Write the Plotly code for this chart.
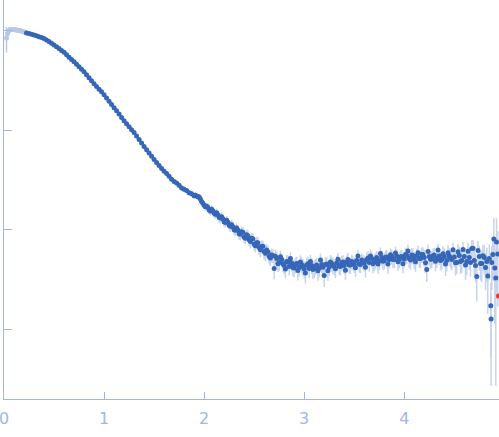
import plotly.graph_objects as go

# Excluded low-q points (light)
q_excluded = [0.025, 0.035, 0.045, 0.055, 0.065, 0.075, 0.085, 0.095, 0.105, 0.115,
              0.125, 0.135, 0.145, 0.155, 0.165, 0.175, 0.185, 0.195, 0.205, 0.215]
i_excluded = [0.841, 0.925, 0.985, 1.012, 1.021, 1.023, 1.023, 1.021, 1.019, 1.016,
              1.012, 1.007, 1.002, 0.997, 0.991, 0.985, 0.978, 0.971, 0.963, 0.955]
e_excluded = [0.24, 0.06, 0.03, 0.015, 0.01, 0.008, 0.006, 0.005, 0.005, 0.004,
              0.004, 0.004, 0.004, 0.004, 0.004, 0.004, 0.004, 0.004, 0.004, 0.004]

# Main experimental curve
q = [0.225, 0.250, 0.275, 0.300, 0.325, 0.350, 0.375, 0.400, 0.425, 0.450,
     0.475, 0.500, 0.525, 0.550, 0.575, 0.600, 0.625, 0.650, 0.675, 0.700,
     0.725, 0.750, 0.775, 0.800, 0.825, 0.850, 0.875, 0.900, 0.925, 0.950,
     0.975, 1.000, 1.025, 1.050, 1.075, 1.100, 1.125, 1.150, 1.175, 1.200,
     1.225, 1.250, 1.275, 1.300, 1.325, 1.350, 1.375, 1.400, 1.425, 1.450,
     1.475, 1.500, 1.525, 1.550, 1.575, 1.600, 1.625, 1.650, 1.675, 1.700,
     1.725, 1.750, 1.775, 1.800, 1.825, 1.850, 1.875, 1.900, 1.925, 1.950,
     1.975, 2.000, 2.025, 2.050, 2.075, 2.100, 2.125, 2.150, 2.175, 2.200,
     2.225, 2.250, 2.275, 2.300, 2.325, 2.350, 2.375, 2.400, 2.425, 2.450,
     2.475, 2.500, 2.525, 2.550, 2.575, 2.600, 2.625, 2.650, 2.675, 2.700,
     2.725, 2.750, 2.775, 2.800, 2.825, 2.850, 2.875, 2.900, 2.925, 2.950,
     2.975, 3.000, 3.025, 3.050, 3.075, 3.100, 3.125, 3.150, 3.175, 3.200,
     3.225, 3.250, 3.275, 3.300, 3.325, 3.350, 3.375, 3.400, 3.425, 3.450,
     3.475, 3.500, 3.525, 3.550, 3.575, 3.600, 3.625, 3.650, 3.675, 3.700,
     3.725, 3.750, 3.775, 3.800, 3.825, 3.850, 3.875, 3.900, 3.925, 3.950,
     3.975, 4.000, 4.025, 4.050, 4.075, 4.100, 4.125, 4.150, 4.175, 4.200,
     4.225, 4.250, 4.275, 4.300, 4.325, 4.350, 4.375, 4.400, 4.425, 4.450,
     4.475, 4.500, 4.525, 4.550, 4.575, 4.600, 4.625, 4.650, 4.675, 4.700,
     4.725, 4.750, 4.775, 4.800, 4.825, 4.835, 4.850, 4.865, 4.868, 4.875,
     4.885, 4.895, 4.905, 4.915, 4.922, 4.935]
intensity = [0.944, 0.931, 0.916, 0.902, 0.885, 0.867, 0.849, 0.832, 0.802, 0.773,
             0.745, 0.716, 0.686, 0.658, 0.630, 0.603, 0.570, 0.540, 0.512, 0.484,
             0.457, 0.432, 0.407, 0.385, 0.359, 0.335, 0.313, 0.292, 0.274, 0.257,
             0.242, 0.226, 0.210, 0.195, 0.181, 0.168, 0.156, 0.145, 0.134, 0.124,
             0.116, 0.108, 0.101, 0.0944, 0.0871, 0.0804, 0.0741, 0.0684, 0.0635, 0.0589,
             0.0547, 0.0507, 0.0473, 0.0442, 0.0412, 0.0385, 0.0366, 0.0343, 0.0320, 0.0305,
             0.0295, 0.0279, 0.0262, 0.0254, 0.0247, 0.0235, 0.0230, 0.0219, 0.0218, 0.0213,
             0.0192, 0.0176, 0.0172, 0.0158, 0.0160, 0.0146, 0.0148, 0.0133, 0.0135, 0.0120,
             0.0124, 0.0111, 0.0112, 0.0100, 0.0104, 0.00912, 0.00955, 0.00841, 0.00891, 0.00794,
             0.00822, 0.00716, 0.00741, 0.00661, 0.00676, 0.00603, 0.00624, 0.00537, 0.00556, 0.00407,
             0.00513, 0.00468, 0.00501, 0.00437, 0.00479, 0.00427, 0.00462, 0.00412, 0.00457, 0.00417,
             0.00447, 0.00403, 0.00442, 0.00407, 0.00437, 0.00407, 0.00442, 0.00412, 0.00447, 0.00347,
             0.00452, 0.00422, 0.00457, 0.00427, 0.00462, 0.00432, 0.00468, 0.00437, 0.00473, 0.00442,
             0.00479, 0.00447, 0.00490, 0.00452, 0.00495, 0.00462, 0.00501, 0.00468, 0.00513, 0.00473,
             0.00525, 0.00484, 0.00525, 0.00490, 0.00531, 0.00501, 0.00537, 0.00501, 0.00543, 0.00501,
             0.00537, 0.00507, 0.00550, 0.00513, 0.00556, 0.00501, 0.00543, 0.00513, 0.00562, 0.00525,
             0.00398, 0.00537, 0.00507, 0.00556, 0.00513, 0.00543, 0.00501, 0.00537, 0.00490, 0.00543,
             0.00501, 0.00531, 0.00468, 0.00550, 0.00490, 0.00537, 0.00479, 0.00525, 0.00646, 0.00490,
             0.00339, 0.00537, 0.00457, 0.00525, 0.00479, 0.00343, 0.00513, 0.00172, 0.00127, 0.00468,
             0.00562, 0.00804, 0.00412, 0.00327, 0.00750, 0.00569]
error = [0.004, 0.004, 0.004, 0.004, 0.004, 0.004, 0.004, 0.004, 0.004, 0.004,
         0.004, 0.004, 0.004, 0.004, 0.003, 0.003, 0.003, 0.003, 0.003, 0.003,
         0.003, 0.003, 0.003, 0.003, 0.003, 0.003, 0.003, 0.003, 0.002, 0.002,
         0.002, 0.002, 0.002, 0.002, 0.002, 0.002, 0.002, 0.002, 0.002, 0.002,
         0.002, 0.002, 0.002, 0.0015, 0.0015, 0.0015, 0.0015, 0.0015, 0.0015, 0.0015,
         0.0015, 0.0015, 0.0015, 0.0015, 0.0015, 0.0015, 0.0015, 0.0015, 0.0015, 0.0015,
         0.0015, 0.0015, 0.0015, 0.0015, 0.0015, 0.0015, 0.0015, 0.0015, 0.0015, 0.0015,
         0.0015, 0.0015, 0.0015, 0.0015, 0.0015, 0.0015, 0.0015, 0.0015, 0.0015, 0.0013,
         0.0013, 0.0013, 0.0013, 0.0012, 0.0012, 0.0012, 0.0012, 0.0011, 0.0011, 0.0011,
         0.0011, 0.0010, 0.0010, 0.0010, 0.0010, 0.0010, 0.0009, 0.0009, 0.0009, 0.0009,
         0.0009, 0.0008, 0.0008, 0.0008, 0.0008, 0.0008, 0.0008, 0.0008, 0.0008, 0.0008,
         0.0008, 0.0008, 0.0008, 0.0008, 0.0008, 0.0008, 0.0008, 0.0008, 0.0008, 0.0008,
         0.0008, 0.0008, 0.0008, 0.0008, 0.0008, 0.0008, 0.0008, 0.0008, 0.0008, 0.0008,
         0.0008, 0.0008, 0.0008, 0.0008, 0.0008, 0.0008, 0.0009, 0.0009, 0.0009, 0.0009,
         0.0009, 0.0009, 0.0009, 0.0009, 0.0009, 0.0009, 0.0009, 0.0009, 0.0009, 0.0009,
         0.0009, 0.0009, 0.0010, 0.0010, 0.0010, 0.0010, 0.0010, 0.0010, 0.0010, 0.0010,
         0.0010, 0.0010, 0.0010, 0.0010, 0.0010, 0.0010, 0.0010, 0.0011, 0.0011, 0.0011,
         0.0011, 0.0011, 0.0011, 0.0012, 0.0012, 0.0012, 0.0013, 0.0013, 0.0014, 0.0014,
         0.0015, 0.0015, 0.0016, 0.0017, 0.0018, 0.0020, 0.0020, 0.0012, 0.0010, 0.0022,
         0.0025, 0.0050, 0.0030, 0.0030, 0.0055, 0.0040]

# Interleaved readings in the noisy part of the curve
q_mid = [1.9125, 1.9375, 1.9625, 1.9875, 2.0125, 2.0375, 2.0625, 2.0875, 2.1125, 2.1375,
         2.1625, 2.1875, 2.2125, 2.2375, 2.2625, 2.2875, 2.3125, 2.3375, 2.3625, 2.3875,
         2.4125, 2.4375, 2.4625, 2.4875, 2.5125, 2.5375, 2.5625, 2.5875, 2.6125, 2.6375,
         2.6625, 2.6875, 2.7125, 2.7375, 2.7625, 2.7875, 2.8125, 2.8375, 2.8625, 2.8875,
         2.9125, 2.9375, 2.9625, 2.9875, 3.0125, 3.0375, 3.0625, 3.0875, 3.1125, 3.1375,
         3.1625, 3.1875, 3.2125, 3.2375, 3.2625, 3.2875, 3.3125, 3.3375, 3.3625, 3.3875,
         3.4125, 3.4375, 3.4625, 3.4875, 3.5125, 3.5375, 3.5625, 3.5875, 3.6125, 3.6375,
         3.6625, 3.6875, 3.7125, 3.7375, 3.7625, 3.7875, 3.8125, 3.8375, 3.8625, 3.8875,
         3.9125, 3.9375, 3.9625, 3.9875, 4.0125, 4.0375, 4.0625, 4.0875, 4.1125, 4.1375,
         4.1625, 4.1875, 4.2125, 4.2375, 4.2625, 4.2875, 4.3125, 4.3375, 4.3625, 4.3875,
         4.4125, 4.4375, 4.4625, 4.4875, 4.5125, 4.5375, 4.5625, 4.5875, 4.6125, 4.6375,
         4.6625, 4.6875, 4.7125, 4.7375, 4.7625, 4.7875, 4.8125]
i_mid = [0.0222, 0.0214, 0.0203, 0.0184, 0.0170, 0.0168, 0.0154, 0.0155, 0.0143, 0.0141,
         0.0131, 0.0129, 0.0118, 0.0119, 0.0108, 0.0107, 0.00985, 0.0099, 0.0090, 0.0094,
         0.0082, 0.0087, 0.0076, 0.0081, 0.0069, 0.0074, 0.0063, 0.0068, 0.0058, 0.0060,
         0.0052, 0.0055, 0.00541, 0.00456, 0.00536, 0.00454, 0.00404, 0.00475, 0.00513, 0.00418,
         0.00445, 0.00389, 0.00474, 0.00424, 0.00367, 0.00456, 0.00480, 0.00398, 0.00427, 0.00387,
         0.00495, 0.00420, 0.00448, 0.00386, 0.00475, 0.00439, 0.00406, 0.00505, 0.00428, 0.00475,
         0.00392, 0.00503, 0.00441, 0.00472, 0.00415, 0.00545, 0.00447, 0.00479, 0.00420, 0.00519,
         0.00543, 0.00455, 0.00493, 0.00452, 0.00575, 0.00483, 0.00530, 0.00452, 0.00561, 0.00503,
         0.00583, 0.00477, 0.00531, 0.00455, 0.00562, 0.00611, 0.00496, 0.00550, 0.00477, 0.00588,
         0.00514, 0.00562, 0.00466, 0.00604, 0.00504, 0.00546, 0.00482, 0.00624, 0.00491, 0.00574,
         0.00452, 0.00588, 0.00519, 0.00628, 0.00465, 0.00599, 0.00478, 0.00634, 0.00442, 0.00608,
         0.00468, 0.00650, 0.00437, 0.00619, 0.00458, 0.00546, 0.00416]
e_mid = [0.0015, 0.0015, 0.0015, 0.0015, 0.0015, 0.0015, 0.0015, 0.0015, 0.0015, 0.0015,
         0.0015, 0.0015, 0.0013, 0.0013, 0.0013, 0.0013, 0.0012, 0.0012, 0.0012, 0.0012,
         0.0011, 0.0011, 0.0011, 0.0011, 0.0010, 0.0010, 0.0010, 0.0010, 0.0010, 0.0009,
         0.0009, 0.0009, 0.0009, 0.0008, 0.0008, 0.0008, 0.0008, 0.0008, 0.0008, 0.0008,
         0.0008, 0.0008, 0.0008, 0.0008, 0.0008, 0.0008, 0.0008, 0.0008, 0.0008, 0.0008,
         0.0008, 0.0008, 0.0008, 0.0008, 0.0008, 0.0008, 0.0008, 0.0008, 0.0008, 0.0008,
         0.0008, 0.0008, 0.0008, 0.0008, 0.0008, 0.0008, 0.0008, 0.0008, 0.0009, 0.0009,
         0.0009, 0.0009, 0.0009, 0.0009, 0.0009, 0.0009, 0.0009, 0.0009, 0.0009, 0.0009,
         0.0009, 0.0009, 0.0009, 0.0009, 0.0010, 0.0010, 0.0010, 0.0010, 0.0010, 0.0010,
         0.0010, 0.0010, 0.0010, 0.0010, 0.0010, 0.0010, 0.0010, 0.0010, 0.0010, 0.0011,
         0.0011, 0.0011, 0.0011, 0.0011, 0.0012, 0.0012, 0.0012, 0.0012, 0.0013, 0.0013,
         0.0013, 0.0014, 0.0014, 0.0015, 0.0015, 0.0016, 0.0017]

# Outlier (red)
q_outlier = [4.942]
i_outlier = [0.00216]

DARK = "#3566b8"
ERR = "#c6d4ee"
LIGHT = "#b8c8ea"
AXIS = "#a3b6e3"

fig = go.Figure()
fig.add_trace(go.Scatter(
    x=q_excluded, y=i_excluded, mode="markers",
    marker=dict(size=5, color=LIGHT),
    error_y=dict(type="data", array=e_excluded, color=LIGHT, thickness=1.5, width=0),
    showlegend=False, hoverinfo="skip"))
fig.add_trace(go.Scatter(
    x=q + q_mid, y=intensity + i_mid, mode="markers",
    marker=dict(size=5, color=DARK),
    error_y=dict(type="data", array=error + e_mid, color=ERR, thickness=1.5, width=0),
    showlegend=False))
fig.add_trace(go.Scatter(
    x=q_outlier, y=i_outlier, mode="markers",
    marker=dict(size=5, color="#e8372f"),
    showlegend=False))

fig.update_layout(
    width=499, height=437,
    margin=dict(l=4, r=0, t=0, b=38, autoexpand=False),
    paper_bgcolor="white", plot_bgcolor="white",
    font=dict(family="DejaVu Sans", color=AXIS, size=16),
    xaxis=dict(range=[0, 4.947], showgrid=False, zeroline=False,
               showline=True, linecolor=AXIS, linewidth=1,
               ticks="inside", ticklen=7, tickcolor=AXIS, tickwidth=1,
               tick0=0, dtick=1, tickfont=dict(size=16, color=AXIS),
               ticklabeloverflow="allow", ticklabelstandoff=5),
    yaxis=dict(type="log", range=[-3.70, 0.306], showgrid=False, zeroline=False,
               showline=True, linecolor=AXIS, linewidth=1,
               ticks="inside", ticklen=8, tickcolor=AXIS, tickwidth=1,
               dtick=1, showticklabels=False),
)

fig.write_html("out.html", config={"displayModeBar": False},
               post_script="document.body.style.margin='0';document.body.style.overflow='hidden';")
